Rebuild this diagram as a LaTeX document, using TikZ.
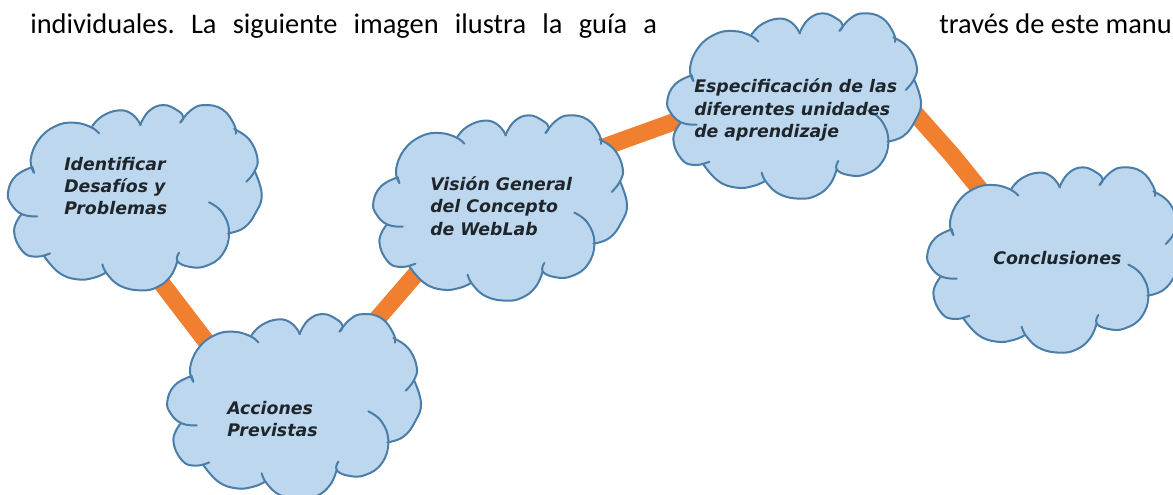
\documentclass[tikz,border=0pt]{standalone}
\usepackage{fontspec}
\setmainfont{Carlito}
\newfontfamily\cloudfont{DejaVu Sans}
\definecolor{cloudblue}{HTML}{BDD7EE}
\definecolor{cloudedge}{HTML}{4A7DA8}
\definecolor{linkorange}{HTML}{F08030}
\definecolor{labelink}{HTML}{1E262C}
\tikzset{
  cloudblob/.pic={
    \begin{scope}[x=0.25pt,y=-0.25pt,every plot/.style={tension=0.75}]
      \fill[cloudblue] plot[smooth] coordinates {(160,255) (150,215) (175,155) (225,115) (280,105) (335,115)}
        -- plot[smooth] coordinates {(335,115) (365,85) (415,68) (455,80) (480,112)}
        -- plot[smooth] coordinates {(478,112) (505,70) (548,52) (590,68) (608,88)}
        -- plot[smooth] coordinates {(600,103) (630,68) (670,52) (725,65) (760,110) (760,124)}
        -- plot[smooth] coordinates {(760,124) (805,155) (830,210) (822,250)}
        -- plot[smooth] coordinates {(822,250) (843,320) (825,375) (790,420) (742,437)}
        -- plot[smooth] coordinates {(742,437) (725,500) (675,535) (625,537) (590,520)}
        -- plot[smooth] coordinates {(590,520) (570,565) (530,598) (480,608) (420,595) (380,560)}
        -- plot[smooth] coordinates {(375,555) (340,570) (290,575) (235,555) (190,505)}
        -- plot[smooth] coordinates {(190,505) (165,507) (125,490) (100,430) (122,380)}
        -- plot[smooth] coordinates {(122,380) (92,350) (82,313) (105,265) (155,238)} -- cycle;
      \begin{scope}[cloudline]
        \draw plot[smooth] coordinates {(160,255) (150,215) (175,155) (225,115) (280,105) (330,118) (355,137)};
        \draw plot[smooth] coordinates {(335,115) (365,85) (415,68) (455,80) (480,112)};
        \draw plot[smooth] coordinates {(478,112) (505,70) (548,52) (590,68) (608,88) (598,105)};
        \draw plot[smooth] coordinates {(600,103) (630,68) (670,52) (725,65) (760,110) (765,138)};
        \draw plot[smooth] coordinates {(760,124) (805,155) (830,210) (822,250) (797,282)};
        \draw plot[smooth] coordinates {(822,250) (843,320) (825,375) (790,420) (742,437)};
        \draw plot[smooth] coordinates {(685,344) (725,375) (745,435) (725,500) (675,535) (625,537) (590,520) (595,495)};
        \draw plot[smooth] coordinates {(590,520) (570,565) (530,598) (480,608) (420,595) (380,560) (365,530)};
        \draw plot[smooth] coordinates {(375,555) (340,570) (290,575) (235,555) (190,505)};
        \draw plot[smooth] coordinates {(208,497) (165,507) (125,490) (100,430) (122,380)};
        \draw plot[smooth] coordinates {(170,386) (125,380) (92,350) (82,313) (105,265) (155,238)};
        \draw (155,238) -- (160,255);
      \end{scope}
    \end{scope}
  },
  cloudline/.style={draw=cloudedge,line width=1.5pt,line cap=round,line join=round},
  linkline/.style={draw=linkorange,line width=13pt,line join=round},
  cloudlabel/.style={anchor=west,inner sep=0pt,align=left,text=labelink,
    font=\cloudfont\fontsize{13}{16.8}\selectfont\bfseries\itshape},
  bodytext/.style={anchor=base west,inner sep=0pt,text=black,font=\fontsize{21.3}{26}\selectfont\frenchspacing}
}
\begin{document}
\begin{tikzpicture}[x=0.75pt,y=-0.75pt]
  \useasboundingbox (0,0) rectangle (1173,494);
  \clip (0,0) rectangle (1173,494);
  % connector ends, inside the clouds
  \coordinate (c1) at (150,268);
  \coordinate (c2a) at (215,353);
  \coordinate (c2b) at (365,333);
  \coordinate (c3a) at (428,260);
  \coordinate (c3b) at (590,152);
  \coordinate (c4a) at (690,116);
  \coordinate (c4b) at (905,102);
  \coordinate (c4m) at (953,156);
  \coordinate (c5) at (995,208);
  \draw[linkline] (c1) -- (c2a);
  \draw[linkline] (c2b) -- (c3a);
  \draw[linkline] (c3b) -- (c4a);
  \draw[linkline] (c4b) -- (c4m) -- (c5);
  % text line
  \node[bodytext] (t1) at (30,33) {\makebox[470.25pt][s]{individuales. La siguiente imagen ilustra la guía a}};
  \node[bodytext] (t2) at (939,33) {través de este manu};
  % clouds
  \pic at (-19.3,87.7) {cloudblob};
  \pic at (346,98) {cloudblob};
  \pic at (640,-4) {cloudblob};
  \pic at (140,296.7) {cloudblob};
  \pic at (900,150) {cloudblob};
  % labels
  \node[cloudlabel] (n1) at (64,186) {Identificar\\Desafíos y\\Problemas};
  \node[cloudlabel] (n2) at (430,206) {Visión General\\del Concepto\\de WebLab};
  \node[cloudlabel] (n3) at (694,110) {Especificación de las\\diferentes unidades\\de aprendizaje};
  \node[cloudlabel] (n4) at (227,419) {Acciones\\Previstas};
  \node[cloudlabel] (n5) at (993,258) {Conclusiones};
\end{tikzpicture}
\end{document}
